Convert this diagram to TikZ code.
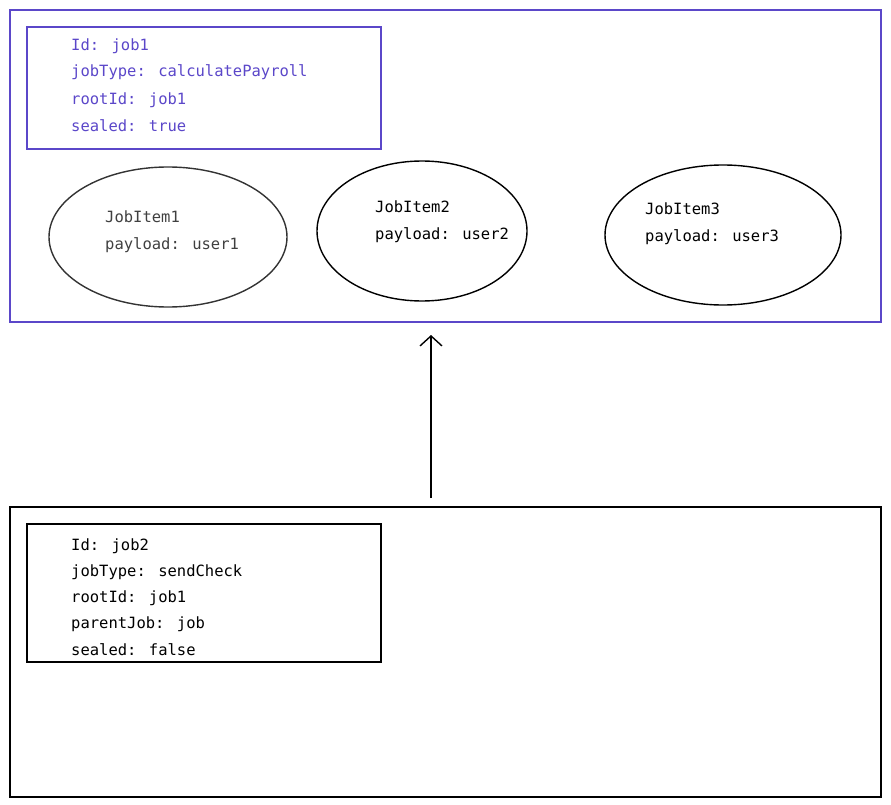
\documentclass[tikz,border=0pt]{standalone}
\usepackage{fontspec}
\setmainfont{DejaVu Sans Mono}
\usetikzlibrary{arrows.meta,shapes.geometric}
\definecolor{pur}{HTML}{5B47C9}
\begin{document}
\begin{tikzpicture}[x=1pt,y=-1pt,
  box/.style={draw,line width=1.4pt},
  txt/.style={anchor=west,inner sep=0pt,font=\fontsize{15.5}{17}\selectfont},
  ell/.style={draw,line width=1.4pt,ellipse}]
\useasboundingbox (0,0) rectangle (891,805);
\draw[box,pur] (10,10) rectangle (881,322);
\draw[box,pur] (27,27) rectangle (381,149);
\foreach \t/\y in {Id: job1/46,jobType: calculatePayroll/72,rootId: job1/100,sealed: true/126}
  \node[txt,text=pur] at (71,\y) {\t};
\node[ell,draw=black!80,minimum width=238pt,minimum height=140pt] (e1) at (168,237) {};
\node[ell,minimum width=210pt,minimum height=140pt] (e2) at (422,231) {};
\node[ell,minimum width=236pt,minimum height=140pt] (e3) at (723,235) {};
\node[txt,text=black!75] (t1a) at (105,217) {JobItem1};
\node[txt,text=black!75] (t1b) at (105,245) {payload: user1};
\node[txt] (t2a) at (375,207) {JobItem2};
\node[txt] (t2b) at (375,235) {payload: user2};
\node[txt] (t3a) at (645,209) {JobItem3};
\node[txt] (t3b) at (645,237) {payload: user3};
\draw[box] (10,507) rectangle (881,797);
\draw[box] (27,524) rectangle (381,662);
\foreach \t/\y in {Id: job2/546,jobType: sendCheck/572,rootId: job1/598,parentJob: job/624,sealed: false/650}
  \node[txt] at (71,\y) {\t};
\coordinate (a) at (431,498);
\coordinate (b) at (431,335);
\draw[line width=1.4pt,-{Straight Barb[length=10pt,width=22pt]}] (a) -- (b);
\end{tikzpicture}
\end{document}
